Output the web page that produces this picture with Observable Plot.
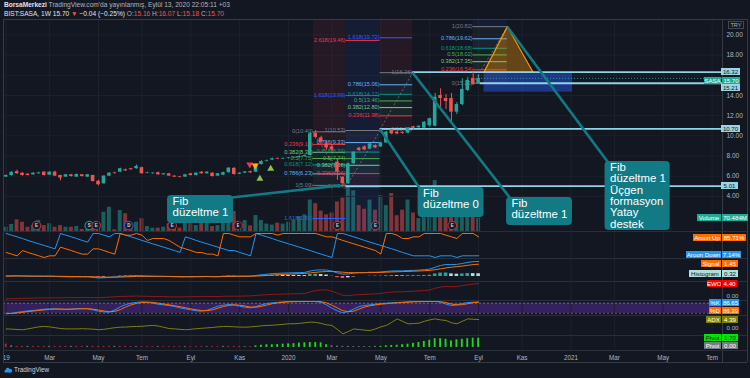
<!DOCTYPE html>
<html><head><meta charset="utf-8">
<script src="https://cdn.jsdelivr.net/npm/d3@7"></script>
<script src="https://cdn.jsdelivr.net/npm/@observablehq/plot@0.6"></script>
<style>
html,body{margin:0;padding:0;background:#131722;}
#root{position:relative;width:750px;height:378px;overflow:hidden;background:#131722;font-family:"Liberation Sans",Arial,sans-serif;}
.tag{position:absolute;height:7px;font-size:6.1px;line-height:7px;text-align:center;white-space:nowrap;overflow:hidden;}
.hl{position:absolute;background:#2a2e39;}
.hdr{position:absolute;left:4px;font-size:6.6px;white-space:nowrap;color:#b2b5be;}
</style></head><body><div id="root"></div>
<script>
// ---------------- DATA ----------------
const open = [5.91,6.07,6.45,6.30,6.20,6.14,6.24,6.40,6.10,6.40,
 6.07,5.91,6.14,5.91,6.14,5.91,6.07,5.50,5.25,6.01,
 6.30,6.40,6.64,6.74,6.74,6.84,6.28,6.24,6.34,6.14,
 6.24,6.01,5.93,5.91,6.24,6.07,6.40,6.24,6.30,6.01,
 6.10,6.35,6.78,6.20,6.30,6.45,6.40,7.16,7.46,7.60,
 7.72,7.70,7.75,7.80,7.85,7.95,8.05,10.25,9.80,9.20,
 8.90,7.40,5.90,5.25,7.23,8.78,8.90,8.70,9.05,8.90,
 9.30,10.60,10.36,10.35,10.26,10.90,10.80,10.76,11.00,10.95,
 14.00,13.70,13.70,12.35,13.10,14.50,15.70,15.16];
const close = [6.07,6.38,6.24,6.07,6.07,6.30,6.32,6.07,6.40,6.01,
 5.81,6.14,5.97,6.17,5.97,6.14,5.48,5.15,6.01,6.30,
 6.26,6.74,6.52,6.64,6.97,6.24,6.32,6.30,6.14,6.24,
 6.01,5.91,5.88,6.14,6.07,6.30,6.24,6.40,5.97,6.24,
 6.35,6.80,6.17,6.30,6.42,6.33,7.16,7.46,7.50,7.72,
 7.70,7.75,7.80,7.85,7.95,8.05,10.20,9.85,9.35,8.80,
 8.60,6.40,5.25,7.23,8.38,8.55,8.60,9.20,8.80,9.30,
 10.36,10.20,10.20,10.25,10.76,10.75,10.95,11.35,11.70,13.83,
 13.70,13.40,12.35,13.10,14.60,15.50,15.10,15.70];
const high = [6.12,6.45,6.60,6.35,6.25,6.35,6.40,6.45,6.45,6.50,
 6.10,6.18,6.18,6.22,6.17,6.18,6.10,5.60,6.05,6.35,
 6.40,6.80,6.70,6.78,7.10,6.90,6.40,6.35,6.40,6.28,
 6.28,6.05,5.98,6.18,6.28,6.34,6.45,6.45,6.34,6.28,
 6.40,6.85,6.85,6.35,6.45,6.50,7.25,7.55,7.60,7.80,
 7.80,7.80,7.85,7.90,8.00,8.10,10.35,10.53,9.95,9.35,
 9.05,7.75,5.95,7.30,8.45,8.85,9.00,9.25,9.10,9.40,
 10.45,10.65,10.45,10.40,10.80,10.95,11.00,11.40,11.75,14.20,
 14.66,14.10,14.20,13.30,15.66,15.80,16.26,16.07];
const low = [5.88,6.00,6.20,6.00,6.02,6.10,6.20,6.02,6.05,5.98,
 5.55,5.88,5.92,5.88,5.92,5.88,5.42,5.05,5.20,5.98,
 6.20,6.35,6.48,6.60,6.70,6.20,6.24,6.20,6.10,6.10,
 5.98,5.88,5.84,5.88,6.02,6.02,6.20,6.20,5.92,5.98,
 6.05,6.30,6.10,6.15,6.25,6.28,6.35,7.10,7.40,7.55,
 7.65,7.65,7.70,7.75,7.80,7.90,8.00,9.70,9.20,8.60,
 8.40,5.60,5.09,5.20,7.15,8.45,8.55,8.65,8.75,8.85,
 9.25,10.10,10.10,10.15,10.20,10.65,10.75,10.70,10.85,10.90,
 12.50,12.60,11.35,12.10,13.00,14.40,15.00,15.16];
const volumeM = [23,38,63,50,23,32,59,32,42,23,
 32,23,23,27,11,15,42,50,104,131,
 9,113,96,32,50,69,27,18,18,23,
 42,23,18,45,49,32,49,49,27,32,
 50,59,108,23,59,30,86,60,40,35,
 45,40,50,60,80,90,170,150,110,90,
 100,160,180,240,220,140,120,170,115,195,
 140,205,85,115,170,100,70,75,95,275,
 130,75,150,110,130,150,120,70.484];
const aroonUp = [21,14,7,29,21,14,7,0,7,7,
 43,36,29,21,14,14,36,36,29,21,
 14,100,93,93,100,93,71,79,79,79,
 71,57,43,36,29,21,21,14,14,7,
 100,100,93,86,86,86,100,100,100,100,
 93,100,100,100,100,100,100,100,93,86,
 86,79,71,64,57,50,43,36,29,14,
 100,100,93,79,79,86,86,100,100,100,
 100,93,86,79,100,100,100,85.71];
const aroonDown = [100,93,86,79,71,64,57,50,43,36,
 100,93,86,79,71,64,100,100,93,86,
 100,100,93,86,79,71,64,57,50,43,
 36,29,21,86,79,71,64,57,50,43,
 36,29,29,21,14,7,100,93,86,79,
 71,64,57,50,43,36,29,21,14,7,
 0,100,100,93,86,79,71,64,57,50,
 43,36,29,21,14,7,7,7,7,0,
 7,7,7,0,7,7,7,7.14];
const macd = [0.05,0.07,0.08,0.06,0.04,0.03,0.03,0.02,0.03,0.01,
 -0.03,-0.03,-0.04,-0.03,-0.04,-0.04,-0.10,-0.18,-0.15,-0.10,
 -0.06,0.00,0.04,0.07,0.10,0.06,0.04,0.03,0.02,0.01,
 -0.01,-0.03,-0.05,-0.04,-0.04,-0.02,-0.01,0.00,-0.03,-0.02,
 0.02,0.06,0.04,0.03,0.04,0.04,0.12,0.20,0.27,0.33,
 0.37,0.40,0.42,0.44,0.46,0.48,0.65,0.75,0.78,0.76,
 0.62,0.42,0.27,0.30,0.40,0.45,0.45,0.50,0.50,0.53,
 0.60,0.65,0.66,0.66,0.70,0.72,0.75,0.80,0.86,1.10,
 1.30,1.42,1.40,1.43,1.53,1.67,1.74,1.77];
const signal = [0.04,0.05,0.06,0.06,0.05,0.05,0.04,0.04,0.04,0.03,
 0.02,0.01,0.00,-0.01,-0.02,-0.02,-0.04,-0.07,-0.08,-0.09,
 -0.08,-0.06,-0.04,-0.02,0.01,0.02,0.02,0.02,0.02,0.02,
 0.01,0.00,-0.01,-0.02,-0.02,-0.02,-0.02,-0.01,-0.02,-0.02,
 -0.01,0.00,0.01,0.02,0.02,0.03,0.05,0.08,0.12,0.16,
 0.20,0.24,0.28,0.31,0.34,0.37,0.42,0.49,0.55,0.59,
 0.60,0.56,0.50,0.46,0.45,0.45,0.45,0.46,0.47,0.48,
 0.51,0.54,0.56,0.58,0.60,0.62,0.65,0.68,0.72,0.80,
 0.90,1.01,1.09,1.16,1.23,1.32,1.40,1.45];
const histogram = [0.01,0.02,0.02,0.00,-0.01,-0.02,-0.01,-0.02,-0.01,-0.02,
 -0.05,-0.04,-0.04,-0.02,-0.02,-0.02,-0.06,-0.11,-0.07,-0.01,
 0.02,0.06,0.08,0.09,0.09,0.04,0.02,0.01,0.00,-0.01,
 -0.02,-0.03,-0.04,-0.02,-0.02,0.00,0.01,0.01,-0.01,0.00,
 0.03,0.06,0.03,0.01,0.02,0.01,0.07,0.12,0.15,0.17,
 0.17,0.16,0.14,0.13,0.12,0.11,0.23,0.26,0.23,0.17,
 0.02,-0.14,-0.23,-0.16,-0.05,0.00,0.00,0.04,0.03,0.05,
 0.09,0.11,0.10,0.08,0.10,0.10,0.10,0.12,0.14,0.30,
 0.40,0.41,0.31,0.27,0.30,0.35,0.34,0.32];
const ewo = [-0.8,-0.75,-0.7,-0.65,-0.6,-0.55,-0.5,-0.5,-0.45,-0.45,
 -0.45,-0.4,-0.4,-0.4,-0.35,-0.35,-0.4,-0.45,-0.35,-0.2,
 -0.1,0.0,0.05,0.1,0.15,0.1,0.05,0.0,0.0,-0.05,
 -0.1,-0.15,-0.15,-0.1,-0.1,-0.05,0.0,0.05,0.0,0.0,
 0.05,0.1,0.1,0.1,0.15,0.2,0.35,0.5,0.6,0.7,
 0.75,0.8,0.85,0.9,0.95,1.0,1.6,2.0,2.2,2.2,
 1.8,1.1,0.4,0.3,0.5,0.6,0.7,0.8,0.9,1.0,
 1.3,1.5,1.6,1.6,1.7,1.8,1.9,2.0,2.2,2.8,
 3.2,3.4,3.3,3.4,3.7,4.0,4.2,4.4];
const stochK = [16,20,25,30,34,36,40,44,46,46,
 44,42,45,48,47,46,40,32,28,26,
 40,58,72,80,85,88,86,80,74,70,
 66,60,52,46,40,35,32,38,50,62,
 68,72,70,62,56,52,60,70,78,82,
 85,88,90,90,90,90,92,90,85,70,
 50,34,22,30,45,60,66,70,74,78,
 80,82,84,86,88,90,90,90,90,92,
 85,75,66,70,78,84,86,86.65];
const stochD = [20,18,21,25,30,33,37,40,43,45,
 45,44,44,45,47,47,44,39,33,29,
 31,41,57,70,79,84,86,85,80,75,
 70,65,59,53,46,40,36,35,40,50,
 60,67,70,68,63,57,56,61,69,77,
 82,85,88,89,90,90,91,91,89,82,
 68,51,35,29,32,45,57,65,70,74,
 77,80,82,84,86,88,89,90,90,91,
 89,84,75,70,71,77,83,86.39];
const adx = [-0.2,-0.3,-0.5,-0.6,-0.2,0.3,0.8,1.0,0.8,0.4,
 0.0,-0.2,-0.2,-0.2,-0.1,-0.2,-0.3,-0.6,-0.4,0.0,
 0.4,0.65,0.7,0.9,1.0,1.1,1.3,1.5,1.2,0.6,
 0.0,-0.2,-0.4,-0.6,-0.4,-0.1,0.1,0.3,0.5,0.8,
 1.0,1.0,0.8,0.7,0.65,0.8,1.0,1.3,1.5,1.6,
 1.8,2.0,2.3,2.3,2.5,2.8,3.1,3.0,2.5,1.8,
 1.5,-0.5,-2.6,-1.5,-0.2,-0.5,-0.8,-1.0,-0.2,0.8,
 1.5,3.0,4.7,3.5,2.3,2.4,2.6,3.5,4.2,4.7,
 4.2,3.9,2.8,2.3,3.5,4.7,4.5,4.39];
const pivotVal = [0.6,0.3,0.2,0.2,0.2,0.2,0.2,0.2,0.2,0.2,
 0.2,0.2,0.2,0.2,0.2,0.2,0.2,0.2,0.2,0.2,
 0.2,0.2,0.2,0.15,0.15,0.15,0.15,0.15,0.15,0.15,
 0.15,0.15,0.15,0.15,0.15,0.15,0.15,0.15,0.15,0.15,
 0.2,0.2,0.2,0.2,0.15,0.15,0.3,0.4,0.5,0.5,
 0.55,0.6,0.65,0.7,0.8,0.85,0.9,0.9,0.85,0.5,
 0.3,0.25,0.2,0.2,0.15,0.15,0.15,0.15,0.2,0.2,
 0.3,0.35,0.4,0.5,0.6,0.75,0.9,1.1,1.3,1.6,
 1.6,1.5,1.2,1.4,1.5,1.6,1.7,1.7];
const pivotType = ("rnrrnrrrnr"+"rrnrrnrrrr"+"nrrrnrrrnr"+"rrrnrrrnrr"+"nrrrnr"+"gggggggggggggg"+"nnnnnnnnn"+"ggggggggggggggggggg").split("");

const priceTicks = [4,6,8,10,12,14,18,20];
const gridTicks = [4,6,8,10,12,14,16,18,20];
const tickDates = ["2019-01-07","2019-03-04","2019-05-06","2019-07-01","2019-09-02","2019-11-04","2020-01-06","2020-03-02","2020-05-04","2020-07-06","2020-09-07","2020-11-02","2021-01-04","2021-03-01","2021-05-03","2021-07-05"];
const tickLabels = ["19","Mar","May","Tem","Eyl","Kas","2020","Mar","May","Tem","Eyl","Kas","2021","Mar","May","Tem"];

// Fibonacci retracements (ratio -> price as labelled)
const fibRatios = [0,0.236,0.382,0.5,0.618,0.786,1,1.618,2.618];
const fibAVal = [10.40,9.15,8.37,7.75,7.12,6.23,5.09,1.81];
const fibBVal = [4.94,6.26,7.08,7.74,8.39,9.33,10.53,13.99,19.46];
const fibCVal = [10.65,11.98,12.80,13.46,14.12,15.06,16.26,19.72];
const fibDVal = [15.21,16.54,17.35,18.02,18.68,19.62,20.82];
const fibStart = ["2020-02-07","2020-03-20","2020-05-03","2020-08-31"];
const fibEnd   = ["2020-03-20","2020-05-03","2020-06-14","2020-10-14"];
const fibLabelAtEnd = [[], [], [0, 1], []];

// dark background tints behind the retracement drawings
const shadeX1 = ["2020-02-07","2020-03-20","2020-05-03","2020-08-31"];
const shadeX2 = ["2020-03-20","2020-05-03","2020-06-14","2020-10-14"];
const shadeLow = [10.53,0.52,16.26,20.82];
const shadeHigh = [21.53,21.53,21.53,21.53];
const shadeHue = ["#f23645","#2962ff","#f23645","#2962ff"];

// horizontal support/resistance lines
const hLevel = [16.32,15.21,10.70,5.01];
const hStart = ["2020-06-14","2020-09-09","2020-05-03","2020-03-20"];

// triangle formation & zone
const triDates = ["2020-09-14","2020-10-14","2020-11-16"];
const triPrices = [16.32,20.82,16.32];
const zoneDates = ["2020-09-14","2021-01-06"];
const zonePrices = [14.33,16.23];

// signal markers
const sigDates = ["2019-11-17","2019-11-24","2019-11-30","2019-12-14"];
const sigPrices = [7.16,7.06,5.74,6.74];
const sigKind = ["dnR","dnY","up","up"];

// event markers
const evDates = ["2019-02-15","2019-04-24","2019-05-03","2019-06-14","2019-08-09","2019-11-02","2020-03-09","2020-04-27","2020-08-04"];
const evType = ["E","S","E","D","E","E","E","E","E"];

// callouts
const calloutText = ["Fib\ndüzeltme 1","Fib\ndüzeltme 0","Fib\ndüzeltme 1","Fib\ndüzeltme 1\nÜçgen\nformasyon\nYatay\ndestek"];
const calloutX1 = ["2019-08-03","2020-06-21","2020-10-13","2021-02-17"];
const calloutX2 = ["2019-10-27","2020-09-14","2021-01-06","2021-05-12"];
const calloutTop = [4.09,4.88,3.89,7.46];
const calloutBottom = [1.31,1.91,1.11,0.62];
const pointFromDate = ["2020-03-13","2020-05-03","2020-06-14","2020-10-14"];
const pointFromPrice = [5.09,10.65,16.26,20.82];
const pointToDate = ["2019-10-25","2020-06-25","2020-10-18","2021-02-21"];
const pointToPrice = [3.89,4.58,3.79,7.36];

// ---------------- BUILD ----------------
const DAY = 864e5, T0 = Date.UTC(2019,0,7);
const xDomain = [new Date(T0 - 3.48*DAY), new Date(T0 + 923.4*DAY)];
const D = s => new Date(s);
const UP = "#26a69a", DN = "#ef5350";
const FONT = '"Liberation Sans", Arial, sans-serif';
const root = document.getElementById("root");

const bars = open.map((o,i) => ({
  date: new Date(T0 + 7*i*DAY), o, c: close[i], h: high[i], l: low[i], v: volumeM[i],
  up: close[i] >= o,
  au: aroonUp[i], ad: aroonDown[i], m: macd[i], s: signal[i], hist: histogram[i],
  hp: i > 0 ? histogram[i-1] : 0, e: ewo[i], k: stochK[i], d: stochD[i], a: adx[i],
  pv: pivotVal[i], pt: pivotType[i]
}));
const bx1 = (d, w) => new Date(+d.date - w*DAY), bx2 = (d, w) => new Date(+d.date + w*DAY);
const vgrid = Plot.ruleX(tickDates.map(D), {stroke: "#1d212c", strokeWidth: 1});

function pane(top, height, domain, marks) {
  const p = Plot.plot({
    width: 750, height, marginLeft: 3, marginRight: 28, marginTop: 0, marginBottom: 0,
    x: {type: "utc", domain: xDomain, axis: null},
    y: {domain, axis: null},
    style: {background: "transparent", color: "#b2b5be", fontFamily: FONT, overflow: "visible"},
    marks
  });
  p.style.position = "absolute"; p.style.left = "0px"; p.style.top = top + "px";
  root.appendChild(p);
  return {p, top, y: v => p.scale("y").apply(v) + top};
}

// fib data
const fibColor = {0:"#787b86",0.236:"#f23645",0.382:"#81c784",0.5:"#4caf50",0.618:"#089981",0.786:"#64b5f6",1:"#787b86",1.618:"#2962ff",2.618:"#f23645"};
const fibSets = [fibAVal, fibBVal, fibCVal, fibDVal];
const fibLines = [], fibFills = [], fibTrend = [];
fibSets.forEach((vals, f) => {
  vals.forEach((v, k) => {
    const r = fibRatios[k];
    const atEnd = fibLabelAtEnd[f].includes(r);
    fibLines.push({x1: D(fibStart[f]), x2: D(fibEnd[f]), y: v, color: fibColor[r], label: `${r}(${v.toFixed(2)})`,
      lx: atEnd ? D(fibEnd[f]) : D(fibStart[f]), ldx: atEnd ? 0 : -1});
    if (k > 0 && k <= 6) fibFills.push({x1: D(fibStart[f]), x2: D(fibEnd[f]), y1: vals[k-1], y2: v, color: fibColor[r]});
  });
  fibTrend.push({x1: D(fibStart[f]), x2: D(fibEnd[f]), y1: vals[0], y2: vals[6]});
});
const shades = shadeX1.map((s,i) => ({x1: D(s), x2: D(shadeX2[i]), y1: shadeLow[i], y2: shadeHigh[i], c: shadeHue[i]}));
const hLines = hLevel.map((v,i) => ({x1: D(hStart[i]), x2: xDomain[1], y: v}));
const callouts = calloutText.map((t,i) => ({text: t, x1: D(calloutX1[i]), x2: D(calloutX2[i]), top: calloutTop[i], bottom: calloutBottom[i],
  px1: D(pointFromDate[i]), py1: pointFromPrice[i], px2: D(pointToDate[i]), py2: pointToPrice[i]}));
const tri = triDates.map((d,i) => ({x: D(d), y: triPrices[i]}));
const sig = sigDates.map((d,i) => ({x: D(d), y: sigPrices[i], kind: sigKind[i]}));
const last = bars[bars.length-1];

// ---- volume (behind price) ----
const evData = evDates.map((d,i) => ({x: D(d), t: evType[i]}));
const vol = pane(131, 100, [0, 540], [
  Plot.rect(bars, {x1: d => bx1(d, 2.55), x2: d => bx2(d, 2.55), y1: 0, y2: "v", fill: d => d.up ? UP : DN, fillOpacity: 0.5}),
  Plot.dot(evData, {x: "x", y: 32, r: 4.3, fill: "#1c1a25", stroke: d => d.t === "D" ? "#2962ff" : d.t === "S" ? "#26a69a" : "#c8363f", strokeWidth: 1}),
  Plot.text(evData, {x: "x", y: 32, text: "t", fill: "#d1d4dc", fontSize: 4.5, fontWeight: "bold"})
]);

// ---- main price pane ----
const main = pane(19, 212, [0.52, 21.53], [
  Plot.ruleY(gridTicks, {stroke: "#1d212c"}),
  vgrid,
  Plot.rect(shades, {x1: "x1", x2: "x2", y1: "y1", y2: "y2", fill: "c", fillOpacity: 0.08, clip: true}),
  Plot.rect(fibFills, {x1: "x1", x2: "x2", y1: "y1", y2: "y2", fill: "color", fillOpacity: 0.08, clip: true}),
  Plot.ruleY(fibLines, {x1: "x1", x2: "x2", y: "y", stroke: "color", strokeWidth: 1, clip: true}),
  Plot.text(fibLines, {x: "lx", y: "y", text: "label", fill: "color", textAnchor: "end", dx: "ldx", dy: -3, fontSize: 5.6}),
  Plot.link(fibTrend, {x1: "x1", x2: "x2", y1: "y1", y2: "y2", stroke: "#787b86", strokeDasharray: "2,2", strokeWidth: 0.8, clip: true}),
  Plot.rect([{a: D(zoneDates[0]), b: D(zoneDates[1]), y1: zonePrices[0], y2: zonePrices[1]}], {x1: "a", x2: "b", y1: "y1", y2: "y2", fill: "#2962ff", fillOpacity: 0.45}),
  Plot.areaY(tri, {x: "x", y1: 16.32, y2: "y", fill: "#ff9800", fillOpacity: 0.35}),
  Plot.line([...tri, tri[0]], {x: "x", y: "y", stroke: "#ff9800", strokeWidth: 1.2}),
  Plot.ruleY(hLines, {x1: "x1", x2: "x2", y: "y", stroke: "#8fd3e6", strokeWidth: 1.8}),
  Plot.ruleY([last], {x1: "date", x2: () => xDomain[1], y: "c", stroke: UP, strokeDasharray: "1,2"}),
  Plot.ruleX(bars, {x: "date", y1: "l", y2: "h", stroke: d => d.up ? UP : DN, strokeWidth: 1}),
  Plot.rect(bars, {x1: d => bx1(d, 2.3), x2: d => bx2(d, 2.3), y1: d => Math.min(d.o, d.c), y2: d => Math.max(d.o, d.c, Math.min(d.o, d.c) + 0.06), fill: d => d.up ? UP : DN}),
  Plot.dot(sig, {x: "x", y: "y", symbol: "triangle", r: 2.6, rotate: d => d.kind === "up" ? 0 : 180,
    fill: d => d.kind === "dnR" ? "#f23645" : d.kind === "dnY" ? "#ffb300" : "#8bc34a"}),
  Plot.link(callouts, {x1: "px1", y1: "py1", x2: "px2", y2: "py2", stroke: "#127a84", strokeWidth: 2.6}),
  Plot.rect(callouts, {x1: "x1", x2: "x2", y1: "bottom", y2: "top", fill: "#127a84", rx: 4}),
  Plot.text(callouts, {x: "x1", y: "top", text: "text", dx: 5, dy: 1.2, textAnchor: "start", lineAnchor: "top", lineHeight: 1, fontSize: 11.4, fill: "#ffffff"}),
  Plot.axisY({anchor: "right", ticks: priceTicks, tickFormat: d => d.toFixed(2), tickSize: 0, tickPadding: 4, fontSize: 6.5, label: null})
]);

// ---- indicators ----
const aroon = pane(231, 27, [-4.17, 108.33], [
  vgrid,
  Plot.line(bars, {x: "date", y: "ad", stroke: "#2196f3", strokeWidth: 1}),
  Plot.line(bars, {x: "date", y: "au", stroke: "#ff6d00", strokeWidth: 1})
]);
const macdP = pane(258, 23, [-0.59, 2.12], [
  vgrid,
  Plot.rect(bars, {x1: d => bx1(d, 2.3), x2: d => bx2(d, 2.3), y1: 0, y2: "hist",
    fill: d => d.hist >= 0 ? (d.hist >= d.hp ? "#26a69a" : "#b2dfdb") : (d.hist <= d.hp ? "#ff5252" : "#ffcdd2")}),
  Plot.line(bars, {x: "date", y: "m", stroke: "#2196f3", strokeWidth: 1}),
  Plot.line(bars, {x: "date", y: "s", stroke: "#ff6d00", strokeWidth: 1})
]);
const ewoP = pane(281, 19, [-1.36, 5.08], [
  vgrid,
  Plot.line(bars, {x: "date", y: "e", stroke: "#8e1a1a", strokeWidth: 1}),
  Plot.axisY({anchor: "right", ticks: [0], tickFormat: d => d.toFixed(2), tickSize: 0, tickPadding: 4, fontSize: 6.2, label: null})
]);
const stP = pane(300, 15, [6.2, 96.2], [
  Plot.rect([{a: xDomain[0], b: xDomain[1]}], {x1: "a", x2: "b", y1: 20, y2: 80, fill: "#36205f"}),
  vgrid,
  Plot.ruleY([20, 80], {stroke: "#787b86", strokeDasharray: "2,2", strokeWidth: 0.8}),
  Plot.line(bars, {x: "date", y: "k", stroke: "#2196f3", strokeWidth: 1, clip: true}),
  Plot.line(bars, {x: "date", y: "d", stroke: "#ff6d00", strokeWidth: 1, clip: true})
]);
const adxP = pane(315, 20, [-3.41, 6.34], [
  vgrid,
  Plot.line(bars, {x: "date", y: "a", stroke: "#7d7d16", strokeWidth: 1}),
  Plot.axisY({anchor: "right", ticks: [0], tickFormat: d => d.toFixed(2), tickSize: 0, tickPadding: 4, fontSize: 6.2, label: null})
]);
const pivP = pane(335, 15, [-0.55, 2.18], [
  vgrid,
  Plot.rect(bars, {x1: d => bx1(d, 1.2), x2: d => bx2(d, 1.2), y1: 0, y2: "pv",
    fill: d => d.pt === "g" ? "#1ed61e" : d.pt === "r" ? "#b5212b" : "#6d707a"})
]);
// x axis
const xa = Plot.plot({
  width: 750, height: 12, marginLeft: 3, marginRight: 28, marginTop: 0, marginBottom: 0,
  x: {type: "utc", domain: xDomain, axis: null},
  style: {background: "transparent", fontFamily: FONT, overflow: "visible"},
  marks: [Plot.text(tickDates.map((d,i) => ({x: D(d), t: tickLabels[i]})), {x: "x", text: "t", frameAnchor: "middle", fill: "#b2b5be", fontSize: 6.3})]
});
xa.style.position = "absolute"; xa.style.left = "0px"; xa.style.top = "351px";
root.appendChild(xa);

// ---------------- decorations ----------------
function div(cls, css, text) {
  const d = document.createElement("div");
  d.className = cls; Object.assign(d.style, css);
  if (text !== undefined) d.innerHTML = text;
  root.appendChild(d); return d;
}
div("hl", {left: "3px", top: "19px", width: "744px", height: "1px", background: "#363a45"});
div("hl", {left: "3px", top: "362px", width: "744px", height: "1px", background: "#363a45"});
div("hl", {left: "3px", top: "19px", width: "1px", height: "343px", background: "#363a45"});
div("hl", {left: "747px", top: "19px", width: "1px", height: "343px", background: "#363a45"});
div("hl", {left: "722px", top: "19px", width: "1px", height: "343px", background: "#363a45"});
[231, 258, 281, 300, 315, 335, 350].forEach(y => div("hl", {left: "3px", top: y + "px", width: "744px", height: "1px"}));

div("hdr", {top: "1px"}, '<b style="color:#e0e3eb">BorsaMerkezi</b> TradingView.com\'da yayınlanmış, Eylül 13, 2020 22:05:11 +03');
div("hdr", {top: "9.5px"}, '<span style="color:#e0e3eb">BIST:SASA, 1W</span> <span style="color:#e0e3eb">15.70</span> <span style="color:#ef5350">▼</span> <span style="color:#e0e3eb">−0.04 (−0.25%)</span> O:<span style="color:#ef5350">15.16</span> H:<span style="color:#ef5350">16.07</span> L:<span style="color:#ef5350">15.18</span> C:<span style="color:#ef5350">15.70</span>');
div("tag", {left: "728px", width: "14px", top: "21px", border: "1px solid #434651", color: "#b2b5be", height: "6px", lineHeight: "6px", fontSize: "5.6px"}, "TRY");
div("hdr", {top: "366px", left: "4px", color: "#d1d4dc", fontSize: "6.4px"}, '<svg width="9" height="7" viewBox="0 0 9 7" style="vertical-align:-1px;margin-right:1px"><path d="M1.5 6.5 C0 6.5 0 4 1.8 4 C1.8 1.8 4.5 1 5.4 3 C7.5 2.6 9 4.4 7.5 6.5 Z" fill="#2196f3"/></svg>TradingView');

function tag(x1, x2, yc, text, bg, fg) {
  div("tag", {left: x1 + "px", width: (x2 - x1) + "px", top: (yc - 3.5) + "px", background: bg, color: fg}, text);
}
const CY = "#9bd5e4", DK = "#131722";
tag(721, 740, main.y(16.32), "16.32", CY, DK);
tag(704, 721, main.y(15.70) + 2.7, "SASA", "#22ab94", "#fff");
tag(722, 740, main.y(15.70) + 2.7, "15.70", "#22ab94", "#fff");
tag(721, 740, main.y(15.21) + 5, "15.21", CY, DK);
tag(721, 740, main.y(10.70), "10.70", CY, DK);
tag(721, 738, main.y(5.01), "5.01", CY, DK);
tag(697, 721, vol.y(70.484), "Volume", "#22ab94", "#fff");
tag(722, 748, vol.y(70.484), "70.484M", "#22ab94", "#fff");
tag(693, 721, aroon.y(85.71) + 1, "Aroon Up", "#ff6d00", "#fff");
tag(722, 746, aroon.y(85.71) + 1, "85.71%", "#ff6d00", "#fff");
tag(686, 721, aroon.y(7.14) - 0.5, "Aroon Down", "#2196f3", "#fff");
tag(722, 741, aroon.y(7.14) - 0.5, "7.14%", "#2196f3", "#fff");
tag(701, 721, macdP.y(1.45), "Signal", "#ff6d00", "#fff");
tag(722, 738, macdP.y(1.45), "1.45", "#ff6d00", "#fff");
tag(689, 721, macdP.y(0.32), "Histogram", "#b2dfdb", DK);
tag(722, 738, macdP.y(0.32), "0.32", "#b2dfdb", DK);
tag(707, 721, ewoP.y(4.40), "EWO", "#ff0000", "#fff");
tag(722, 737, ewoP.y(4.40), "4.40", "#ff0000", "#fff");
tag(709, 721, stP.y(86.65) + 0.5, "%K", "#2196f3", "#fff");
tag(722, 739, stP.y(86.65) + 0.5, "86.65", "#2196f3", "#fff");
tag(709, 721, stP.y(86.39) + 8.5, "%D", "#ff6d00", "#fff");
tag(722, 739, stP.y(86.39) + 8.5, "86.39", "#ff6d00", "#fff");
tag(706, 721, adxP.y(4.39), "ADX", "#808000", "#fff");
tag(722, 738, adxP.y(4.39), "4.39", "#808000", "#fff");
tag(704, 721, pivP.y(1.70), "Pivot", "#00e600", DK);
tag(722, 738, pivP.y(1.70), "1.70", "#00e600", DK);
tag(704, 721, pivP.y(0) - 1, "Pivot", "#787b86", "#fff");
tag(722, 738, pivP.y(0) - 1, "0.00", "#787b86", "#fff");
</script></body></html>
